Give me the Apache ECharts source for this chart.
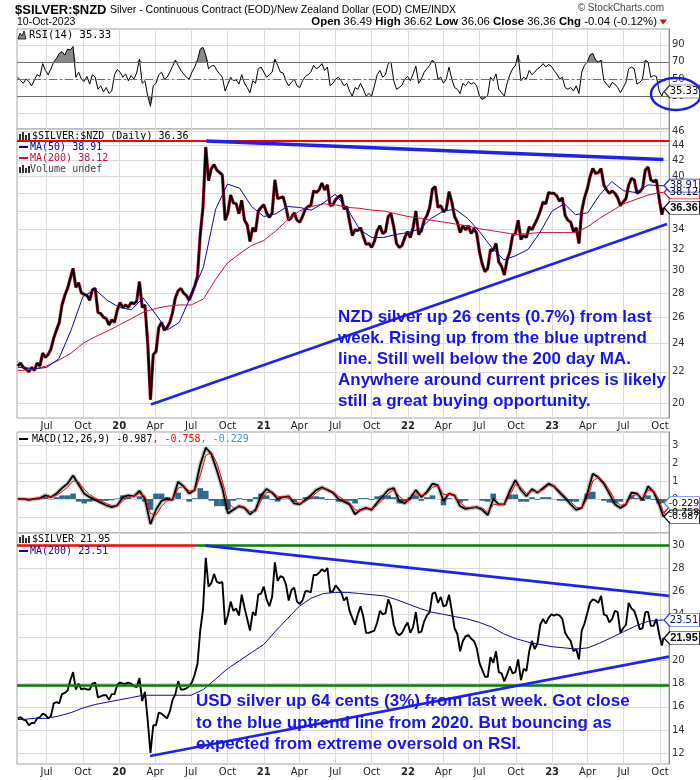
<!DOCTYPE html>
<html><head><meta charset="utf-8">
<script src="https://cdn.jsdelivr.net/npm/echarts@6/dist/echarts.min.js"></script>
<style>html,body{margin:0;padding:0;background:#fff}#c{width:700px;height:780px}</style>
</head><body><div id="c"></div>
<script>
// ---------- DATA ----------
// weekly closes, starting 2019-04-19, one per week, last value is 2023-10-10
const nzdClose = [22.4,22.6,22.3,22.2,22.0,22.3,22.1,22.6,22.4,23.3,
23.0,23.2,23.6,24.4,25.0,25.6,27.0,27.8,28.4,29.3,
30.2,28.5,28.9,28.0,27.9,27.8,27.4,28.3,28.4,26.4,
26.3,26.0,25.9,25.4,25.8,25.6,26.6,27.2,26.8,27.0,
26.8,27.2,27.1,27.3,29.0,26.8,27.0,24.0,20.2,23.2,
23.4,25.2,25.6,25.0,25.2,25.6,26.4,27.6,28.2,28.4,
28.0,27.8,27.4,28.0,28.6,29.5,33.5,36.4,43.8,39.5,
41.0,41.5,40.8,40.5,40.2,35.0,35.8,37.8,36.9,36.8,
35.7,37.2,35.0,34.5,32.8,34.2,33.8,36.0,36.4,36.7,
35.8,35.3,35.8,39.6,37.4,37.5,37.6,36.4,35.0,35.3,
35.8,35.0,34.8,35.4,36.2,36.5,36.6,38.3,38.1,38.4,
39.2,38.4,39.0,36.6,36.7,37.3,37.6,37.8,36.2,36.5,
34.9,33.4,34.0,33.9,34.2,33.3,32.5,32.6,32.2,32.8,
33.9,34.4,33.6,33.8,35.4,35.7,34.3,32.6,32.2,32.4,
33.2,33.8,33.2,34.2,36.0,33.5,33.9,35.0,35.5,36.4,
38.5,38.8,36.4,36.6,35.9,36.2,38.2,37.0,35.4,34.8,
33.7,34.4,34.0,34.4,33.6,34.1,33.6,31.8,30.6,29.9,
30.2,32.0,31.9,32.6,30.8,30.4,29.6,31.0,31.8,33.4,
33.6,35.0,33.0,33.4,33.2,34.3,34.0,34.6,35.2,36.0,
37.0,36.8,38.1,38.0,38.0,37.7,37.1,37.5,35.5,35.0,
34.8,33.8,34.2,32.6,36.0,37.5,38.5,40.0,41.0,40.4,
40.5,41.0,39.0,38.4,38.0,38.3,38.0,37.5,36.6,37.0,
37.4,39.0,39.8,39.6,38.0,38.2,38.6,40.8,41.2,39.6,
39.4,39.6,37.4,35.6,36.36];

const usdClose = [15.0,15.1,14.9,14.8,14.4,14.6,14.6,15.0,15.1,15.4,
15.3,15.0,15.2,16.3,16.4,16.3,17.1,17.2,17.4,18.3,
19.0,17.5,18.0,17.5,17.6,17.5,17.5,18.0,18.1,16.8,
16.9,17.0,17.0,16.6,17.1,17.1,17.9,18.1,18.0,18.0,
18.1,18.0,17.8,17.7,18.5,16.5,17.3,14.8,12.0,14.4,
14.4,15.5,15.4,15.2,15.0,15.6,16.6,17.1,18.2,17.5,
17.5,17.6,17.8,18.1,18.8,19.7,22.6,24.4,28.9,26.4,
26.7,27.5,26.8,26.7,26.8,23.1,23.9,25.1,24.3,24.5,
23.9,25.7,24.6,23.6,22.6,24.2,23.9,25.7,25.8,26.4,
25.3,24.7,25.5,28.5,26.9,27.3,27.2,26.6,25.2,26.1,
26.3,25.1,24.9,25.2,26.0,26.0,25.9,27.4,27.4,27.6,
27.9,27.7,28.0,25.9,26.0,26.5,26.2,25.9,25.2,25.5,
24.3,23.7,23.1,24.0,24.7,23.8,22.4,22.4,22.5,22.6,
23.3,24.3,24.0,24.1,25.3,24.7,23.1,22.4,22.2,22.4,
22.9,23.3,22.4,22.9,24.2,22.4,22.5,23.4,23.9,24.2,
25.8,25.9,25.0,25.5,24.7,24.8,25.7,24.3,22.8,22.3,
20.8,21.7,22.1,22.2,21.9,21.7,21.1,19.8,19.2,18.6,
18.6,20.3,19.8,20.8,19.0,18.9,18.2,18.8,19.5,18.9,
19.0,20.1,18.3,19.3,19.1,20.8,21.7,21.0,21.5,23.1,
23.6,23.2,23.7,24.0,23.9,24.0,23.9,23.6,22.4,22.0,
21.7,20.8,21.0,20.1,22.6,23.2,24.1,25.0,25.3,25.2,
25.0,25.6,24.0,23.9,23.3,23.6,24.3,24.2,22.4,22.8,
23.1,25.0,24.5,24.3,23.6,22.7,22.8,24.2,24.2,23.0,
23.0,23.6,22.3,21.3,21.95];

const rsi14 = [52,48,45,50,47,42,49,55,53,68,
60,55,62,70,74,80,82,78,85,84,
88,52,58,50,47,53,44,55,52,38,
42,35,40,33,36,55,61,58,52,56,
48,54,50,57,73,45,48,30,18,42,
45,55,58,50,52,58,65,72,66,60,
56,52,50,58,64,72,85,87,78,62,
65,66,60,56,52,36,44,52,48,49,
44,55,45,40,34,48,45,62,64,58,
52,55,58,73,66,58,57,48,42,46,
50,42,40,48,53,55,58,66,62,64,
68,60,64,42,45,50,52,48,42,45,
36,30,40,38,45,38,30,33,30,42,
55,60,52,55,68,70,48,38,40,43,
50,53,48,56,65,45,50,58,62,66,
72,68,50,52,45,50,64,50,40,38,
33,45,42,47,44,46,42,30,26,28,
31,52,48,56,38,34,30,45,55,62,
66,78,48,52,50,60,55,58,62,64,
68,64,67,65,60,56,50,52,40,38,
40,36,42,33,58,66,70,78,80,72,
70,72,48,44,40,46,44,40,34,40,
46,62,64,62,44,46,50,72,70,52,
54,53,36,30,35.33];

// monthly readings: 2019-04-19, then 1st of each month May 2019 .. Oct 2023, then 2023-10-10
const nzdMa50 = [22.3,22.3,22.2,22.3,22.9,25.0,27.7,28.3,27.4,
26.8,26.6,27.6,26.3,25.0,25.6,27.8,30.3,36.2,39.1,38.6,36.5,
35.4,35.7,36.5,36.4,36.1,36.9,37.9,36.2,34.0,33.2,33.2,33.5,
33.7,34.1,35.2,36.0,36.2,35.2,33.8,32.2,31.0,31.4,32.0,33.7,
36.0,36.8,35.6,35.8,37.8,39.4,38.3,38.1,39.0,38.9,38.91];
const nzdMa200 = [22.1,22.1,22.2,22.4,22.8,23.3,24.0,24.5,24.9,
25.4,25.9,26.4,26.7,26.9,27.0,27.0,27.5,29.2,30.7,31.6,32.4,
32.9,33.9,35.0,36.0,36.5,36.8,36.7,36.4,36.3,36.1,36.0,35.7,
35.4,35.2,35.0,34.8,34.6,34.4,34.1,33.9,33.7,33.5,33.6,33.7,
33.7,33.7,33.7,34.3,35.2,36.0,36.8,37.3,37.8,38.1,38.12];
const usdMa200 = [14.9,14.9,15.0,15.0,15.2,15.5,15.9,16.2,16.4,
16.6,16.8,17.0,17.0,17.0,17.0,17.0,17.5,18.4,19.3,20.0,20.7,
21.4,22.6,23.6,24.7,25.4,25.8,25.9,25.9,25.8,25.7,25.6,25.3,
24.9,24.5,24.2,24.0,23.8,23.6,23.3,22.9,22.3,21.9,21.6,21.4,
21.2,21.1,21.0,21.1,21.5,22.0,22.5,23.0,23.4,23.5,23.51];

// every two weeks from 2019-04-19, last value is 2023-10-10
const macdLine = [0,0,-0.05,0,0.05,0.2,0.1,0.3,0.6,0.85,
1.3,0.8,0.3,0.1,-0.05,-0.2,-0.35,-0.45,-0.35,0.1,
0.2,0.15,0.45,0.0,-1.4,-0.6,-0.1,0.0,-0.05,0.95,
0.7,0.3,0.5,1.9,2.85,2.5,1.6,0.6,-0.8,-0.6,
-0.4,-0.5,-0.85,-0.6,0.2,0.55,0.35,0.0,0.1,0.15,
-0.25,-0.3,-0.05,0.2,0.5,0.65,0.5,0.35,0.0,-0.15,
-0.3,-0.85,-0.6,-0.5,-0.6,-0.2,0.15,0.5,0.6,-0.1,
-0.25,0.05,0.5,0.1,0.4,0.85,0.75,-0.1,0.3,0.2,
-0.4,-0.55,-0.5,-0.45,-0.6,-0.9,0.0,-0.3,-0.3,0.45,
1.05,0.5,0.15,0.55,0.35,0.6,0.85,0.7,0.35,0.05,
-0.3,-0.6,-0.5,0.3,1.4,1.2,0.85,0.3,-0.3,-0.5,
-0.3,0.35,0.3,-0.05,0.7,0.4,-0.3,-0.987];
const macdSignal = [0,0,0,0,0,0.1,0.12,0.2,0.4,0.65,
1.0,0.95,0.55,0.25,0.05,-0.1,-0.25,-0.38,-0.38,-0.1,
0.1,0.15,0.3,0.15,-0.8,-0.9,-0.4,-0.1,-0.05,0.6,
0.7,0.45,0.45,1.3,2.4,2.6,2.0,1.0,-0.2,-0.5,
-0.45,-0.45,-0.7,-0.7,-0.1,0.35,0.4,0.15,0.1,0.12,
-0.1,-0.25,-0.15,0.05,0.35,0.55,0.55,0.4,0.15,-0.05,
-0.2,-0.6,-0.65,-0.55,-0.55,-0.35,-0.05,0.3,0.5,0.15,
-0.1,-0.05,0.3,0.2,0.3,0.65,0.75,0.25,0.25,0.2,
-0.2,-0.45,-0.5,-0.45,-0.5,-0.75,-0.3,-0.3,-0.3,0.2,
0.8,0.65,0.3,0.45,0.4,0.5,0.75,0.72,0.45,0.15,
-0.15,-0.45,-0.5,0.0,1.0,1.2,0.95,0.5,-0.05,-0.35,
-0.3,0.15,0.25,0.05,0.5,0.45,-0.05,-0.758];
const macdHist = [0,0,-0.05,0,0.05,0.1,-0.02,0.1,0.2,0.2,
0.3,-0.15,-0.25,-0.15,-0.1,-0.1,-0.1,-0.07,0.03,0.2,
0.1,0.0,0.15,-0.15,-0.6,0.3,0.3,0.1,0.0,0.35,
0.0,-0.15,0.05,0.6,0.45,-0.1,-0.4,-0.4,-0.6,-0.1,
0.05,-0.05,-0.15,0.1,0.3,0.2,-0.05,-0.15,0.0,0.03,
-0.15,-0.05,0.1,0.15,0.15,0.1,-0.05,-0.05,-0.15,-0.1,
-0.1,-0.25,0.05,0.05,-0.05,0.15,0.2,0.2,0.1,-0.25,
-0.15,0.1,0.2,-0.1,0.1,0.2,0.0,-0.35,0.05,0.0,
-0.2,-0.1,0.0,0.0,-0.1,-0.15,0.3,0.0,0.0,0.25,
0.25,-0.15,-0.15,0.1,-0.05,0.1,0.1,-0.02,-0.1,-0.1,
-0.15,-0.15,0.0,0.3,0.4,0.0,-0.1,-0.2,-0.25,-0.15,
0.0,0.2,0.05,-0.1,0.2,-0.05,-0.25,-0.229];

// tick labels
const xTickDates = ['2019-07-01','2019-10-01','2020-01-01','2020-04-01','2020-07-01','2020-10-01',
 '2021-01-01','2021-04-01','2021-07-01','2021-10-01','2022-01-01','2022-04-01','2022-07-01',
 '2022-10-01','2023-01-01','2023-04-01','2023-07-01','2023-10-01'];
const rsiTicks = [10,30,50,70,90];
const nzdTicks = [20,22,24,26,28,30,32,34,36,38,40,42,44,46];
const macdTicks = [-1,0,1,2,3];
const usdTicks = [12,14,16,18,20,22,24,26,28,30];

// drawn annotation lines (date, price)
const nzdResistance = 44.6;
const nzdDowntrend = [['2020-08-08',44.6],['2023-10-10',42.15]];
const nzdUptrend = [['2020-03-21',19.9],['2023-10-19',34.6]];
const usdTopLevel = 30, usdTopSwitch = '2020-07-11';
const usdSupport = 17.85;
const usdDowntrend = [['2020-08-06',29.95],['2023-10-24',25.6]];
const usdUptrend = [['2020-03-19',11.75],['2023-10-24',20.34]];

// ---------- BUILD ----------
const DAY = 86400000;
const ts = s => { const p = s.split('-').map(Number); return Date.UTC(p[0], p[1]-1, p[2]); };
const wStart = ts('2019-04-19'), lastDay = ts('2023-10-10');
const xMin = ts('2019-04-17'), xMax = ts('2023-10-24');
const weekly = a => a.map((v,i) => [i === a.length-1 ? lastDay : wStart + i*7*DAY, v]);
const biweekly = a => a.map((v,i) => [i === a.length-1 ? lastDay : wStart + i*14*DAY, v]);
const maDates = [wStart];
for (let y = 2019, m = 4; y < 2023 || (y === 2023 && m <= 9); m++) { if (m > 11) { m = 0; y++; } maDates.push(Date.UTC(y, m, 1)); }
maDates.push(lastDay);
const monthly = a => a.map((v,i) => [maDates[i], v]);
const xTicks = xTickDates.map(ts);
const seg = (pts, style) => [{coord:[ts(pts[0][0]), pts[0][1]], lineStyle: style}, {coord:[ts(pts[1][0]), pts[1][1]]}];

const MON = ['Jan','Feb','Mar','Apr','May','Jun','Jul','Aug','Sep','Oct','Nov','Dec'];
function xFmt(v) { const d = new Date(v); const m = d.getUTCMonth(); return m === 0 ? '{y|' + String(d.getUTCFullYear()).slice(2) + '}' : MON[m]; }

const gridBase = {left:17, right:31, show:true, borderColor:'#a4a4a4', borderWidth:1, backgroundColor:'#fff', containLabel:false, outerBoundsMode:'none'};
function xAx(i, show) {
  return {type:'value', gridIndex:i, min:xMin, max:xMax, scale:true,
    axisLine:{show:false}, axisTick:{show:false, customValues:xTicks},
    splitLine:{show:true, lineStyle:{color:'#dcdcdc', width:1}},
    axisLabel:{show:show, customValues:xTicks, formatter:xFmt, margin:3, color:'#222', fontSize:10, fontFamily:'DejaVu Sans', hideOverlap:false,
      rich:{y:{fontWeight:'bold', fontSize:10, fontFamily:'DejaVu Sans', color:'#222'}}}};
}
function yAx(i, type, min, max, ticks, fmt) {
  const a = {type:type, gridIndex:i, position:'right', min:min, max:max,
    axisLine:{show:true, lineStyle:{color:'#8c8c8c'}}, axisTick:{show:false, customValues:ticks},
    splitLine:{show:true, lineStyle:{color:'#dcdcdc', width:1}},
    axisLabel:{customValues:ticks, formatter:fmt || (v => String(Math.round(v*100)/100)), margin:3, color:'#333', fontSize:10, fontFamily:'DejaVu Sans', align:'left'}};
  if (type === 'log') a.logBase = 10;
  return a;
}
const TAGPATH = 'path://M0,6L6,0L36,0L36,12L6,12Z';
function tag(y, text, border, o) {
  o = o || {};
  return {coord:[xMax, y], symbol:TAGPATH, symbolSize:[36,13], symbolOffset:[13,0], symbolKeepAspect:false,
    itemStyle:{color:'#fff', borderColor:border, borderWidth:1},
    label:{show:true, position:'inside', offset:[2,0], formatter:text, color:o.color || '#000',
      fontSize:o.bold ? 11 : (o.size || 10), fontFamily:o.bold ? '"Liberation Sans", Arial, sans-serif' : 'DejaVu Sans', fontWeight:o.bold ? 'bold' : 'normal'}};
}
const mlBase = {silent:true, symbol:['none','none'], label:{show:false}, animation:false};

const rsiData = weekly(rsi14);
const rsiHi = weekly(rsi14.map(v => Math.max(v, 70)));
const rsiLo = weekly(rsi14.map(v => Math.min(v, 30)));
const BLUE = '#1f22ee';

const series = [
  {type:'line', xAxisIndex:0, yAxisIndex:0, data:rsiHi, symbol:'none', silent:true, lineStyle:{width:0}, areaStyle:{origin:70, color:'#8a8a8a', opacity:1}},
  {type:'line', xAxisIndex:0, yAxisIndex:0, data:rsiLo, symbol:'none', silent:true, lineStyle:{width:0}, areaStyle:{origin:30, color:'#8a8a8a', opacity:1}},
  {type:'line', xAxisIndex:0, yAxisIndex:0, data:rsiData, symbol:'none', lineStyle:{color:'#000', width:1},
    markLine:Object.assign({}, mlBase, {data:[
      {yAxis:70, lineStyle:{color:'#6e6e6e', width:1, type:'solid'}},
      {yAxis:30, lineStyle:{color:'#6e6e6e', width:1, type:'solid'}},
      {yAxis:50, lineStyle:{color:'#6e6e6e', width:1, type:[8,3,2,3]}}]}),
    markPoint:{silent:true, animation:false, data:[tag(35.33, '35.33', '#333')]}},

  {type:'line', xAxisIndex:1, yAxisIndex:1, data:weekly(nzdClose), symbol:'none', lineStyle:{color:'#c81030', width:3.2}},
  {type:'line', xAxisIndex:1, yAxisIndex:1, data:weekly(nzdClose), symbol:'none', lineStyle:{color:'#000', width:2},
    markLine:Object.assign({}, mlBase, {data:[
      {yAxis:nzdResistance, lineStyle:{color:'#ff0000', width:2, type:'solid'}},
      seg(nzdDowntrend, {color:BLUE, width:3.5, type:'solid'}),
      seg(nzdUptrend, {color:BLUE, width:2.6, type:'solid'})]})},
  {type:'line', xAxisIndex:1, yAxisIndex:1, data:monthly(nzdMa200), symbol:'none', lineStyle:{color:'#d0103a', width:1}},
  {type:'line', xAxisIndex:1, yAxisIndex:1, data:monthly(nzdMa50), symbol:'none', lineStyle:{color:'#0a0a96', width:1},
    markPoint:{silent:true, animation:false, data:[tag(38.12, '38.12', '#d0103a'), tag(38.91, '38.91', '#2233cc', {color:'#0a0a70'}), tag(36.36, '36.36', '#000', {bold:true})]}},

  {type:'bar', xAxisIndex:2, yAxisIndex:2, data:biweekly(macdHist), barWidth:5.6, itemStyle:{color:'#2b6c8c'}, silent:true},
  {type:'line', xAxisIndex:2, yAxisIndex:2, data:biweekly(macdLine), symbol:'none', lineStyle:{color:'rgba(0,0,0,0.22)', width:4.5}, silent:true},
  {type:'line', xAxisIndex:2, yAxisIndex:2, data:biweekly(macdLine), symbol:'none', lineStyle:{color:'#000', width:1.8}},
  {type:'line', xAxisIndex:2, yAxisIndex:2, data:biweekly(macdSignal), symbol:'none', lineStyle:{color:'#ff0000', width:1},
    markPoint:{silent:true, animation:false, data:[tag(-0.758, '-0.758', '#ff0000', {size:9.5}), tag(-0.229, '-0.229', '#6a7cff', {size:9.5}), tag(-0.987, '-0.987', '#000', {size:9.5})]}},

  {type:'line', xAxisIndex:3, yAxisIndex:3, data:weekly(usdClose), symbol:'none', lineStyle:{color:'#000', width:1.9},
    markLine:Object.assign({}, mlBase, {data:[
      [{coord:[xMin, usdTopLevel], lineStyle:{color:'#ff0000', width:2.5, type:'solid'}}, {coord:[ts(usdTopSwitch), usdTopLevel]}],
      [{coord:[ts(usdTopSwitch), usdTopLevel], lineStyle:{color:'#008000', width:2.5, type:'solid'}}, {coord:[xMax, usdTopLevel]}],
      {yAxis:usdSupport, lineStyle:{color:'#008000', width:2.5, type:'solid'}},
      seg(usdDowntrend, {color:BLUE, width:2.6, type:'solid'}),
      seg(usdUptrend, {color:BLUE, width:2.6, type:'solid'})]})},
  {type:'line', xAxisIndex:3, yAxisIndex:3, data:monthly(usdMa200), symbol:'none', lineStyle:{color:'#0a0a96', width:1},
    markPoint:{silent:true, animation:false, data:[tag(23.51, '23.51', '#2233cc', {color:'#0a0a70'}), tag(21.95, '21.95', '#000', {bold:true})]}}
];

// ---------- TEXT / ANNOTATIONS ----------
const G = [];
const ARIAL = '"Liberation Sans", Arial, sans-serif', MONO = '"DejaVu Sans Mono", monospace';
function txt(x, y, text, o) {
  G.push({type:'text', x:x, y:y, z:60, silent:true, style:Object.assign({text:text, fill:'#000', fontSize:10, fontFamily:MONO,
    align:'left', textAlign:'left', verticalAlign:'middle', textVerticalAlign:'middle'}, o || {})});
}
function rect(x, y, w, h, fill) { G.push({type:'rect', z:60, silent:true, shape:{x:x, y:y, width:w, height:h}, style:{fill:fill}}); }
function barsIcon(x, y) { rect(x, y+2, 2, 6, '#333'); rect(x+3, y, 2, 8, '#333'); rect(x+6, y+3, 2, 5, '#333'); rect(x+9, y+1, 2, 7, '#333'); }

txt(15, 10, '$SILVER:$NZD', {fontFamily:ARIAL, fontWeight:'bold', fontSize:13});
txt(110, 10, 'Silver - Continuous Contract (EOD)/New Zealand Dollar (EOD) CME/INDX', {fontFamily:ARIAL, fontSize:10.5});
txt(17, 22, '10-Oct-2023', {fontFamily:ARIAL, fontSize:10.5});
txt(657, 22, '{b|Open} 36.49 {b|High} 36.62 {b|Low} 36.06 {b|Close} 36.36 {b|Chg} -0.04 (-0.12%)',
  {fontFamily:ARIAL, fontSize:11.4, align:'right', textAlign:'right', rich:{b:{fontFamily:ARIAL, fontSize:11.4, fontWeight:'bold', fill:'#000'}}});
G.push({type:'polygon', z:60, silent:true, shape:{points:[[659.5,19.5],[667,19.5],[663.2,24.5]]}, style:{fill:'#d01020'}});
txt(664, 8, '\u00a9 StockCharts.com', {fontFamily:ARIAL, fontSize:10, fill:'#444', align:'right', textAlign:'right'});

// panel legends
G.push({type:'polygon', z:60, silent:true, shape:{points:[[18,39],[20,33],[22,36],[24,31],[26,39]]}, style:{fill:'#888', stroke:'#000', lineWidth:0.8}});
txt(29, 35, 'RSI(14) 35.33', {fontSize:10.5});
barsIcon(19, 132);
txt(32, 136, '$SILVER:$NZD (Daily) 36.36', {fontSize:10});
rect(19, 146, 9, 2, '#0a0a96'); txt(30, 147, 'MA(50) 38.91', {fontSize:10, fill:'#0a0a96'});
rect(19, 157, 9, 2, '#d0103a'); txt(30, 158, 'MA(200) 38.12', {fontSize:10, fill:'#d0103a'});
barsIcon(19, 165); txt(30, 169, 'Volume undef', {fontSize:10, fill:'#444'});
rect(19, 438, 9, 2, '#000');
txt(32, 439, '{k|MACD(12,26,9) -0.987}{r|, -0.758}{c|, -0.229}', {fontSize:10,
  rich:{k:{fontFamily:MONO, fontSize:10, fill:'#000'}, r:{fontFamily:MONO, fontSize:10, fill:'#ff0000'}, c:{fontFamily:MONO, fontSize:10, fill:'#3399cc'}}});
barsIcon(19, 535); txt(32, 539, '$SILVER 21.95', {fontSize:10});
rect(19, 550, 9, 2, '#0a0a96'); txt(30, 551, 'MA(200) 23.51', {fontSize:10, fill:'#0a0a96'});

// commentary
G.push({type:'text', x:338, y:306.5, z:70, silent:true, style:{
  text:'NZD silver up 26 cents (0.7%) from last\nweek. Rising up from the blue uptrend\nline. Still well below the 200 day MA.\nAnywhere around current prices is likely\nstill a great buying opportunity.',
  fill:'#1616e8', fontSize:17, fontWeight:'bold', fontFamily:ARIAL, lineHeight:21, align:'left', textAlign:'left', verticalAlign:'top', textVerticalAlign:'top'}});
G.push({type:'text', x:196, y:691, z:70, silent:true, style:{
  text:'USD silver up 64 cents (3%) from last week. Got close\nto the blue uptrend line from 2020. But bouncing as\nexpected from extreme oversold on RSI.',
  fill:'#1616e8', fontSize:17, fontWeight:'bold', fontFamily:ARIAL, lineHeight:21.5, align:'left', textAlign:'left', verticalAlign:'top', textVerticalAlign:'top'}});
G.push({type:'ellipse', z:100, silent:true, shape:{cx:676, cy:94, rx:25, ry:16}, style:{fill:'none', stroke:'#1a1af0', lineWidth:2.4}});

const option = {
  animation:false, backgroundColor:'#fff',
  grid:[Object.assign({}, gridBase, {top:29, height:100}), Object.assign({}, gridBase, {top:129, height:289}),
        Object.assign({}, gridBase, {top:432, height:101}), Object.assign({}, gridBase, {top:533, height:231})],
  xAxis:[xAx(0,false), xAx(1,true), xAx(2,false), xAx(3,true)],
  yAxis:[
    yAx(0, 'value', -8.5, 108.5, rsiTicks, v => v === 10 ? '' : String(v)),
    yAx(1, 'log', 19.1, 46.28, nzdTicks),
    yAx(2, 'value', -1.89, 3.72, macdTicks),
    yAx(3, 'value', 11.05, 31.04, usdTicks)
  ],
  series:series,
  graphic:{elements:G}
};
const chart = echarts.init(document.getElementById('c'), null, {renderer:'canvas'});
chart.setOption(option);
</script>
</body></html>
